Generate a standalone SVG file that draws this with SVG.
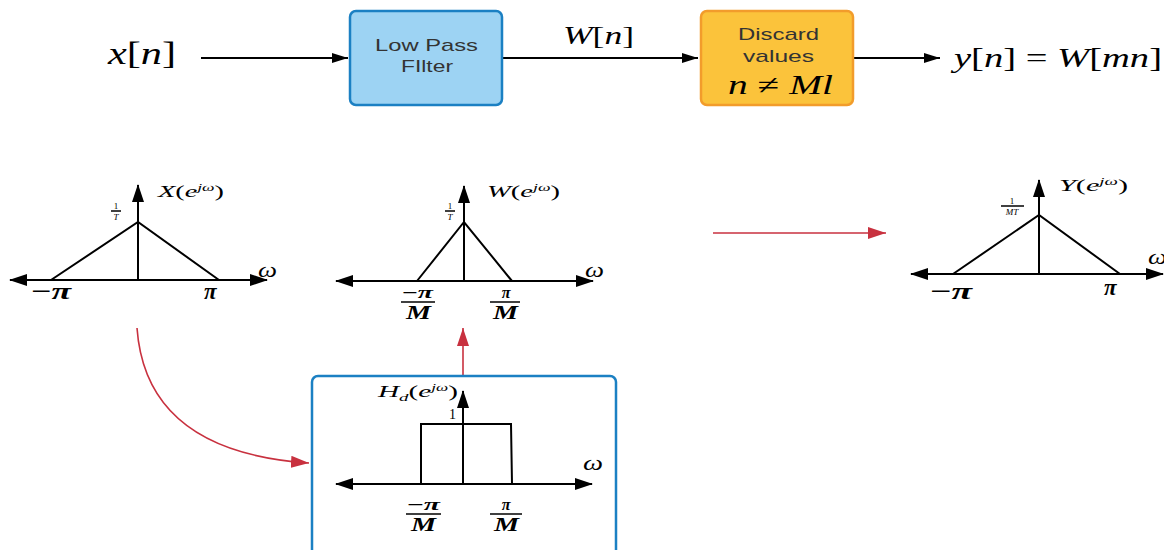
<svg xmlns="http://www.w3.org/2000/svg" width="1164" height="550" viewBox="0 0 1164 550">
<style>
.m{font-family:"Liberation Serif","DejaVu Serif",serif;font-style:italic;fill:#000}
.u{font-style:normal}
.box{font-family:"Liberation Sans",Arial,sans-serif;font-size:17px;fill:#333}
.ax{stroke:#000;stroke-width:2;fill:none}
.conn{stroke:#000;stroke-width:1.8;fill:none}
.red{stroke:#c8313f;stroke-width:1.6;fill:none}
.bar{stroke:#000;stroke-width:1.5}
</style>
<defs>
<marker id="ah" viewBox="0 0 16 10" refX="16" refY="5" markerWidth="16" markerHeight="10" markerUnits="userSpaceOnUse" orient="auto"><path d="M0,0 L16,5 L0,10 Z" fill="#000"/></marker>
<marker id="axh" viewBox="0 0 18 12" refX="17" refY="6" markerWidth="18" markerHeight="12" markerUnits="userSpaceOnUse" orient="auto-start-reverse"><path d="M0,0 L18,6 L0,12 Z" fill="#000"/></marker>
<marker id="rh" viewBox="0 0 18 12" refX="18" refY="6" markerWidth="18" markerHeight="12" markerUnits="userSpaceOnUse" orient="auto"><path d="M0,0 L18,6 L0,12 Z" fill="#c8313f"/></marker>
</defs>
<rect width="1164" height="550" fill="#fff"/>

<g id="connectors">
<line class="conn" x1="201" y1="58" x2="348" y2="58" marker-end="url(#ah)"/>
<line class="conn" x1="503" y1="58" x2="698" y2="58" marker-end="url(#ah)"/>
<line class="conn" x1="854" y1="58" x2="940" y2="58" marker-end="url(#ah)"/>
<line class="red" x1="713" y1="233" x2="886" y2="233" marker-end="url(#rh)"/>
<line class="red" x1="463" y1="375" x2="463" y2="328" marker-end="url(#rh)"/>
<path class="red" d="M137,328 Q146,452 309,463" marker-end="url(#rh)"/>
<text class="m" x="563" y="44" font-size="25" textLength="71" lengthAdjust="spacingAndGlyphs">W<tspan class="u">[</tspan>n<tspan class="u">]</tspan></text>
</g>

<g id="label-x">
<text class="m" x="108" y="64" font-size="32" textLength="68" lengthAdjust="spacingAndGlyphs">x<tspan class="u">[</tspan>n<tspan class="u">]</tspan></text>
</g>

<g id="node-lpf">
<rect x="350" y="11" width="152" height="94" rx="6" fill="#9dd3f3" stroke="#1b80c3" stroke-width="2.5"/>
<text class="box" x="375" y="51" textLength="103" lengthAdjust="spacingAndGlyphs">Low Pass</text>
<text class="box" x="401" y="72" textLength="52" lengthAdjust="spacingAndGlyphs">FIlter</text>
</g>

<g id="node-discard">
<rect x="701" y="11" width="152" height="94" rx="6" fill="#fbc33b" stroke="#f29c2b" stroke-width="2.5"/>
<text class="box" x="738" y="40" textLength="81" lengthAdjust="spacingAndGlyphs">Discard</text>
<text class="box" x="743" y="62" textLength="71" lengthAdjust="spacingAndGlyphs">values</text>
<text class="m" x="728" y="94" font-size="27" textLength="105" lengthAdjust="spacingAndGlyphs">n <tspan class="u">≠</tspan> Ml</text>
</g>

<g id="label-y">
<text class="m" x="954" y="67" font-size="27" textLength="208" lengthAdjust="spacingAndGlyphs">y<tspan class="u">[</tspan>n<tspan class="u">] = </tspan>W<tspan class="u">[</tspan>mn<tspan class="u">]</tspan></text>
</g>

<g id="graph-X">
<line class="ax" x1="10" y1="280" x2="267" y2="280" marker-start="url(#axh)" marker-end="url(#axh)"/>
<line class="ax" x1="138" y1="280" x2="138" y2="185" marker-end="url(#axh)"/>
<polyline class="ax" points="51,280 138,222 219,280"/>
<text class="m" x="158" y="197" font-size="16" textLength="66" lengthAdjust="spacingAndGlyphs">X<tspan class="u">(</tspan>e<tspan font-size="10" dy="-6">jω</tspan><tspan class="u" dy="6">)</tspan></text>
<text class="m u" x="116" y="209" font-size="9" text-anchor="middle">1</text>
<line class="bar" x1="111" y1="211" x2="121" y2="211" stroke-width="0.8"/>
<text class="m" x="116" y="220" font-size="9" text-anchor="middle">T</text>
<text class="m" x="258" y="277" font-size="22" textLength="19" lengthAdjust="spacingAndGlyphs">ω</text>
<text class="m" x="31" y="299" font-size="23" font-weight="bold" textLength="40" lengthAdjust="spacingAndGlyphs"><tspan class="u">−</tspan>π</text>
<text class="m" x="204" y="299" font-size="23" font-weight="bold">π</text>
</g>

<g id="graph-W">
<line class="ax" x1="336" y1="281" x2="593" y2="281" marker-start="url(#axh)" marker-end="url(#axh)"/>
<line class="ax" x1="464" y1="281" x2="464" y2="186" marker-end="url(#axh)"/>
<polyline class="ax" points="417,281 464,222 512,281"/>
<text class="m" x="487" y="197" font-size="16" textLength="73" lengthAdjust="spacingAndGlyphs">W<tspan class="u">(</tspan>e<tspan font-size="10" dy="-6">jω</tspan><tspan class="u" dy="6">)</tspan></text>
<text class="m u" x="450" y="209" font-size="9" text-anchor="middle">1</text>
<line class="bar" x1="445" y1="211" x2="455" y2="211" stroke-width="0.8"/>
<text class="m" x="450" y="220" font-size="9" text-anchor="middle">T</text>
<text class="m" x="585" y="277" font-size="22" textLength="19" lengthAdjust="spacingAndGlyphs">ω</text>
<text class="m" x="402" y="298" font-size="16" font-weight="bold" textLength="31" lengthAdjust="spacingAndGlyphs"><tspan class="u">−</tspan>π</text>
<line class="bar" x1="401" y1="302" x2="435" y2="302"/>
<text class="m" x="406" y="319" font-size="18" font-weight="bold" textLength="25" lengthAdjust="spacingAndGlyphs">M</text>
<text class="m" x="506" y="298" font-size="16" font-weight="bold" text-anchor="middle">π</text>
<line class="bar" x1="490" y1="302" x2="520" y2="302"/>
<text class="m" x="493" y="319" font-size="18" font-weight="bold" textLength="25" lengthAdjust="spacingAndGlyphs">M</text>
</g>

<g id="graph-Y">
<line class="ax" x1="911" y1="274" x2="1163" y2="274" marker-start="url(#axh)" marker-end="url(#axh)"/>
<line class="ax" x1="1039" y1="274" x2="1039" y2="180" marker-end="url(#axh)"/>
<polyline class="ax" points="953,274 1039,215 1120,274"/>
<text class="m" x="1059" y="191" font-size="16" textLength="69" lengthAdjust="spacingAndGlyphs">Y<tspan class="u">(</tspan>e<tspan font-size="10" dy="-6">jω</tspan><tspan class="u" dy="6">)</tspan></text>
<text class="m u" x="1012" y="204" font-size="9" text-anchor="middle">1</text>
<line class="bar" x1="1001" y1="206" x2="1024" y2="206" stroke-width="0.8"/>
<text class="m" x="1012" y="215" font-size="9" text-anchor="middle">MT</text>
<text class="m" x="1148" y="264" font-size="22" textLength="19" lengthAdjust="spacingAndGlyphs">ω</text>
<text class="m" x="930" y="299" font-size="23" font-weight="bold" textLength="42" lengthAdjust="spacingAndGlyphs"><tspan class="u">−</tspan>π</text>
<text class="m" x="1104" y="295" font-size="23" font-weight="bold">π</text>
</g>

<g id="node-hd">
<rect x="312" y="376" width="304" height="184" rx="6" fill="#fff" stroke="#1b80c3" stroke-width="2.5"/>
<line class="ax" x1="336" y1="484" x2="592" y2="484" marker-start="url(#axh)" marker-end="url(#axh)"/>
<line class="ax" x1="463" y1="484" x2="463" y2="391" marker-end="url(#axh)"/>
<polyline class="ax" points="421,484 421,424 511,424 512,484"/>
<text class="m" x="378" y="397" font-size="17" textLength="80" lengthAdjust="spacingAndGlyphs">H<tspan font-size="11" dy="4">d</tspan><tspan class="u" dy="-4">(</tspan>e<tspan font-size="10" dy="-6">jω</tspan><tspan class="u" dy="6">)</tspan></text>
<text class="m u" x="449" y="419" font-size="14">1</text>
<text class="m" x="583" y="470" font-size="22" textLength="20" lengthAdjust="spacingAndGlyphs">ω</text>
<text class="m" x="407" y="510" font-size="16" font-weight="bold" textLength="33" lengthAdjust="spacingAndGlyphs"><tspan class="u">−</tspan>π</text>
<line class="bar" x1="406" y1="514" x2="441" y2="514"/>
<text class="m" x="411" y="531" font-size="18" font-weight="bold" textLength="25" lengthAdjust="spacingAndGlyphs">M</text>
<text class="m" x="506" y="510" font-size="16" font-weight="bold" text-anchor="middle">π</text>
<line class="bar" x1="490" y1="514" x2="522" y2="514"/>
<text class="m" x="494" y="531" font-size="18" font-weight="bold" textLength="25" lengthAdjust="spacingAndGlyphs">M</text>
</g>
</svg>
